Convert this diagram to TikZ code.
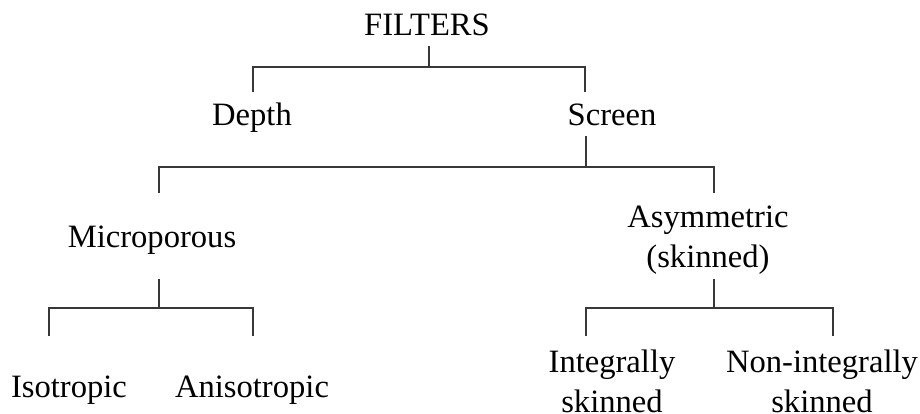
\documentclass[tikz,border=0pt]{standalone}
\usepackage{fontspec}
\setmainfont{Liberation Serif}
\begin{document}
\begin{tikzpicture}[x=1pt,y=-1pt,
  lbl/.style={anchor=base, inner sep=0pt, font=\fontsize{32.6}{40}\selectfont},
  link/.style={draw=black!78, line width=2pt, line join=miter}]
\useasboundingbox (0,0) rectangle (920,414);

% labels
\node[lbl] (filters) at (427,36) {FILTERS};
\node[lbl] (depth)   at (252,126) {Depth};
\node[lbl] (screen)  at (612,126) {Screen};
\node[lbl] (micro)   at (152,247) {Microporous};
\node[lbl] (asymA)   at (708,227) {Asymmetric};
\node[lbl] (asymB)   at (708,267) {(skinned)};
\node[lbl] (iso)     at (69,397)  {Isotropic};
\node[lbl] (aniso)   at (252,397) {Anisotropic};
\node[lbl] (intA)    at (612,372) {Integrally};
\node[lbl] (intB)    at (612,412) {skinned};
\node[lbl] (nonA)    at (822,372) {Non-integrally};
\node[lbl] (nonB)    at (822,412) {skinned};

% bracket points
\coordinate (fTop) at (429,46);  \coordinate (fMid) at (429,67);
\coordinate (fL) at (253,67);    \coordinate (fLd) at (253,92);
\coordinate (fR) at (585,67);    \coordinate (fRd) at (585,92);

\coordinate (sTop) at (586,136); \coordinate (sMid) at (586,167);
\coordinate (sL) at (159,167);   \coordinate (sLd) at (159,193);
\coordinate (sR) at (714,167);   \coordinate (sRd) at (714,193);

\coordinate (mTop) at (159,279); \coordinate (mMid) at (159,308);
\coordinate (mL) at (49,308);    \coordinate (mLd) at (49,336);
\coordinate (mR) at (253,308);   \coordinate (mRd) at (253,336);

\coordinate (aTop) at (714,279); \coordinate (aMid) at (714,308);
\coordinate (aL) at (586,308);   \coordinate (aLd) at (586,336);
\coordinate (aR) at (833,308);   \coordinate (aRd) at (833,336);

% connectors
\draw[link] (fTop) -- (fMid);
\draw[link] (fLd) -- (fL) -- (fR) -- (fRd);
\draw[link] (sTop) -- (sMid);
\draw[link] (sLd) -- (sL) -- (sR) -- (sRd);
\draw[link] (mTop) -- (mMid);
\draw[link] (mLd) -- (mL) -- (mR) -- (mRd);
\draw[link] (aTop) -- (aMid);
\draw[link] (aLd) -- (aL) -- (aR) -- (aRd);
\end{tikzpicture}
\end{document}
